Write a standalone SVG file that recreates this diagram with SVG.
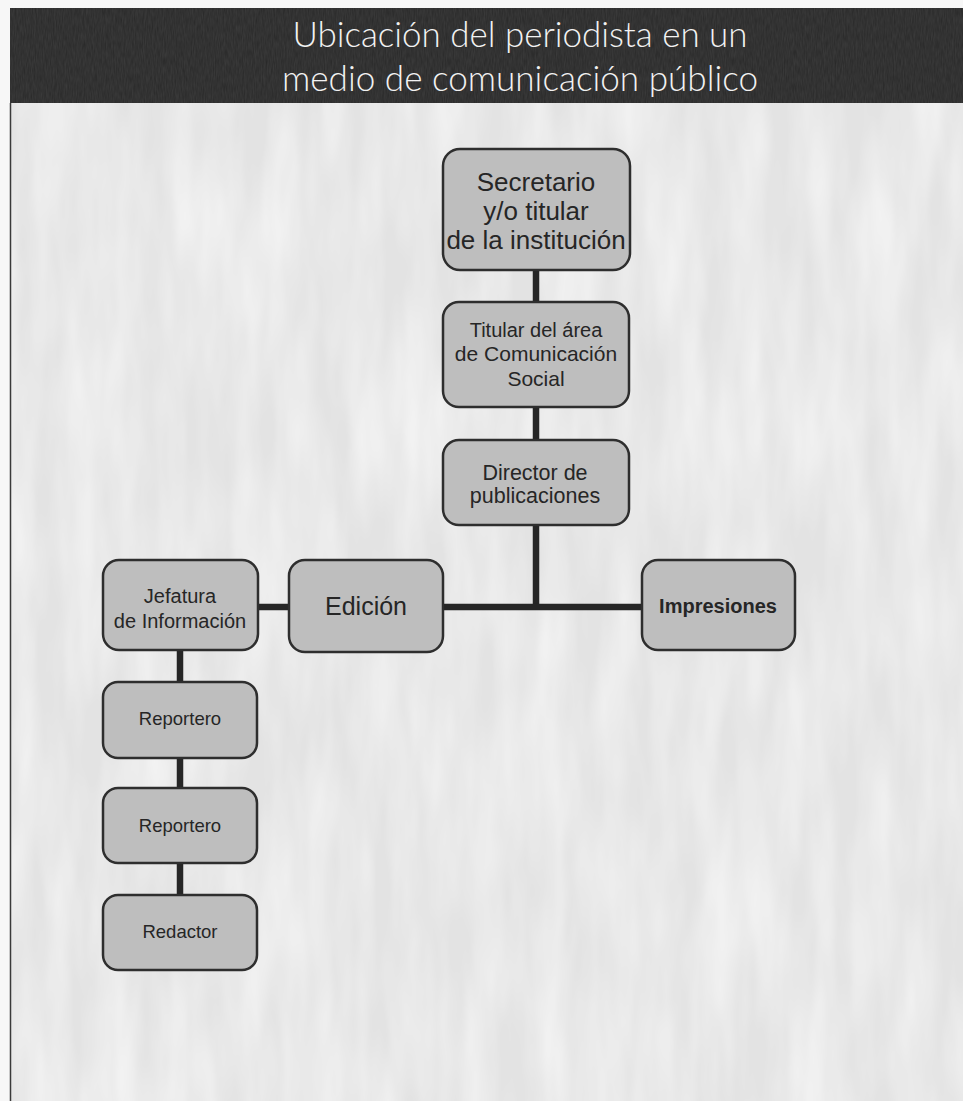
<svg xmlns="http://www.w3.org/2000/svg" width="963" height="1101" viewBox="0 0 963 1101">
  <defs>
    <style>
      .box { fill: #bebebe; stroke: #2e2e2e; stroke-width: 2.5; }
      .conn { stroke: #262626; stroke-width: 6.5; fill: none; }
      .fut { font-family: "Liberation Sans", Arial, sans-serif; fill: #262626; text-anchor: middle; }
      .ari { font-family: "Liberation Sans", Arial, sans-serif; fill: #262626; text-anchor: middle; }
      .title { font-family: Lato, "Liberation Sans", Arial, sans-serif; fill: #f2f2f2; text-anchor: middle; font-size: 35px; font-weight: 300; }
    </style>
    <filter id="grain" x="0" y="0" width="100%" height="100%">
      <feTurbulence type="fractalNoise" baseFrequency="0.9 0.12" numOctaves="2" seed="3" result="n"/>
      <feColorMatrix in="n" type="matrix" values="0 0 0 0 0  0 0 0 0 0  0 0 0 0 0  0 0 0 0.35 0"/>
      <feComposite in2="SourceGraphic" operator="in"/>
    </filter>
    <filter id="grainLight" x="0" y="0" width="100%" height="100%">
      <feTurbulence type="fractalNoise" baseFrequency="0.03 0.006" numOctaves="3" seed="7" result="n"/>
      <feColorMatrix in="n" type="matrix" values="0 0 0 0 1  0 0 0 0 1  0 0 0 0 1  0 0 0 0.9 -0.25"/>
      <feComposite in2="SourceGraphic" operator="in"/>
    </filter>
  </defs>

  <!-- page background -->
  <rect x="0" y="0" width="963" height="1101" fill="#f7f7f7"/>
  <!-- body panel -->
  <rect x="10" y="103" width="953" height="998" fill="#e3e3e3"/>
  <rect x="10" y="103" width="953" height="998" fill="#ffffff" filter="url(#grainLight)"/>
  <line x1="10.5" y1="103" x2="10.5" y2="1101" stroke="#3a3a3a" stroke-width="1.5"/>

  <!-- header band -->
  <g id="header">
    <rect x="10" y="8" width="953" height="95" fill="#3d3d3d"/>
    <rect x="10" y="8" width="953" height="95" fill="#000" filter="url(#grain)"/>
    <text class="title" x="520" y="47" textLength="455" lengthAdjust="spacingAndGlyphs">Ubicación del periodista en un</text>
    <text class="title" x="520" y="91" textLength="476" lengthAdjust="spacingAndGlyphs">medio de comunicación público</text>
  </g>

  <!-- connectors -->
  <g id="connectors">
    <line class="conn" x1="536" y1="270" x2="536" y2="302"/>
    <line class="conn" x1="536" y1="407" x2="536" y2="440"/>
    <line class="conn" x1="536" y1="525" x2="536" y2="607"/>
    <line class="conn" x1="443" y1="607" x2="642" y2="607"/>
    <line class="conn" x1="258" y1="607" x2="289" y2="607"/>
    <line class="conn" x1="180" y1="650" x2="180" y2="682"/>
    <line class="conn" x1="180" y1="758" x2="180" y2="788"/>
    <line class="conn" x1="180" y1="863" x2="180" y2="895"/>
  </g>

  <g id="secretario">
    <rect class="box" x="443" y="149" width="187" height="121" rx="17"/>
    <text class="fut" x="536" y="191" font-size="26">Secretario</text>
    <text class="fut" x="536" y="220" font-size="26">y/o titular</text>
    <text class="fut" x="536" y="249" font-size="26">de la institución</text>
  </g>

  <g id="titular">
    <rect class="box" x="443" y="302" width="186" height="105" rx="16"/>
    <text class="fut" x="536" y="337" font-size="20">Titular del área</text>
    <text class="fut" x="536" y="361" font-size="21">de Comunicación</text>
    <text class="fut" x="536" y="386" font-size="21">Social</text>
  </g>

  <g id="director">
    <rect class="box" x="443" y="440" width="186" height="85" rx="16"/>
    <text class="ari" x="535" y="480" font-size="21.5">Director de</text>
    <text class="ari" x="535" y="503" font-size="21.5">publicaciones</text>
  </g>

  <g id="edicion">
    <rect class="box" x="289" y="560" width="154" height="92" rx="16"/>
    <text class="fut" x="366" y="615" font-size="25">Edición</text>
  </g>

  <g id="impresiones">
    <rect class="box" x="642" y="560" width="153" height="90" rx="16"/>
    <text class="ari" x="718" y="613" font-size="20" font-weight="bold">Impresiones</text>
  </g>

  <g id="jefatura">
    <rect class="box" x="103" y="560" width="155" height="90" rx="16"/>
    <text class="fut" x="180" y="603" font-size="20">Jefatura</text>
    <text class="fut" x="180" y="628" font-size="20">de Información</text>
  </g>

  <g id="reportero1">
    <rect class="box" x="103" y="682" width="154" height="76" rx="15"/>
    <text class="ari" x="180" y="725" font-size="18.5">Reportero</text>
  </g>

  <g id="reportero2">
    <rect class="box" x="103" y="788" width="154" height="75" rx="15"/>
    <text class="ari" x="180" y="832" font-size="18.5">Reportero</text>
  </g>

  <g id="redactor">
    <rect class="box" x="103" y="895" width="154" height="75" rx="15"/>
    <text class="ari" x="180" y="938" font-size="18.5">Redactor</text>
  </g>
</svg>
